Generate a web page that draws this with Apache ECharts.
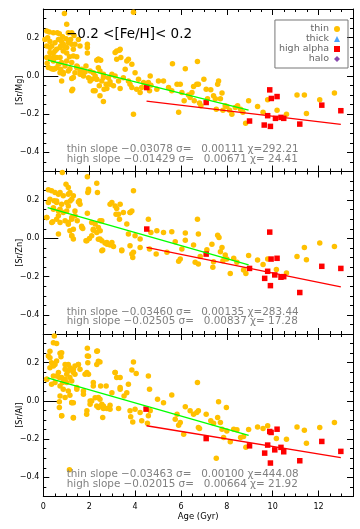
<!DOCTYPE html>
<html>
<head>
<meta charset="utf-8">
<script src="https://cdn.jsdelivr.net/npm/echarts@6/dist/echarts.min.js"></script>
<style>
html, body { margin: 0; padding: 0; background: #fff; }
#chart { width: 360px; height: 529px; }
</style>
</head>
<body>
<div id="chart"></div>
<script>
// y-axis names for the three panels
const panelNames = ['[Sr/Mg]', '[Sr/Zn]', '[Sr/Al]']
const xTicks = [0, 2, 4, 6, 8, 10, 12]
const yTicks = [-0.4, -0.2, 0, 0.2]

// [Sr/Mg]
const thinMg = [
  [0.92,0.326],[3.93,0.333],[1.02,0.27],[0.26,0.23],[0.44,0.226],[0.61,0.226],[0.70,0.22],[0.29,0.18],[0.19,0.20],
  [0.17,0.066],[0.36,0.038],[0.51,0.038],[0.44,0.12],[0.58,0.14],[0.80,0.18],[0.87,0.165],[0.95,0.15],[1.02,0.12],
  [1.14,0.10],[0.80,0.07],[0.73,0.017],[0.87,0.01],[1.24,-0.014],[1.16,0.038],[1.31,0.14],[1.46,0.10],[1.49,0.047],
  [1.67,0.009],[1.28,-0.07],[1.24,-0.078],[1.92,0.148],[1.92,0.12],[1.92,0.165],[1.46,0.043],[1.6,0.026],[1.82,0.02],
  [1.97,-0.009],[2.11,-0.017],[2.26,-0.078],[2.33,0.082],[2.40,0.087],[2.5,0.082],[2.4,0.043],[2.47,0.026],[2.62,0.009],
  [2.47,-0.104],[2.62,-0.134],[2.74,-0.043],[2.77,-0.066],[2.91,-0.031],[3.06,-0.052],[3.13,0.122],[3.2,0.087],[3.13,0.0],
  [3.32,0.134],[3.38,0.096],[3.49,-0.009],[3.35,-0.066],[3.64,0.078],[3.71,-0.026],[3.78,-0.043],[3.86,-0.061],[4.0,0.017],
  [3.93,-0.2],[4.07,-0.07],[4.22,-0.087],[4.29,-0.061],[4.58,-0.035],[4.63,-0.078],[4.66,0.0],[4.69,-0.049],[5.02,-0.026],
  [5.24,-0.026],[5.46,-0.061],[5.6,-0.078],[5.9,-0.19],[5.83,-0.043],[5.63,0.064],
  [0.15,0.235],[0.07,0.19],[0.15,0.157],[0.29,0.148],[0.51,0.174],[0.66,0.19],[0.76,0.157],[0.84,0.205],[0.99,0.195],
  [1.09,0.174],[1.19,0.19],[1.09,0.226],[1.24,0.226],[1.34,0.212],[1.38,0.165],[1.53,0.19],[1.6,0.157],[0.15,0.096],
  [0.29,0.096],[0.44,0.078],[0.58,0.096],[0.66,0.061],[0.95,0.052],[1.02,0.078],[1.24,0.07],[1.09,0.026],[0.76,0.035],
  [0.58,0.043],[1.38,0.017],[1.75,0.0],[1.86,0.052],[2.04,0.026],[2.18,0.017],[2.26,0.0],[2.33,-0.017],[2.55,-0.026],
  [2.44,-0.052],[2.65,-0.07],[2.84,-0.009],[2.99,0.009],[3.28,-0.026],[3.57,0.035],[3.86,0.061],[4.15,-0.017],[4.37,-0.035],
  [4.95,-0.07],
  [1.24,0.165],[0.37,0.156],[0.73,0.148],[1.02,0.148],[0.29,0.122],[0.51,0.13],[0.87,0.13],[0.44,0.096],[0.73,0.096],
  [1.31,0.104],[0.22,0.044],[0.44,0.035],[1.46,0.052],[1.68,0.035],[0.87,0.018],[1.31,-0.008],[1.6,0.009],[0.8,-0.026],
  [2.04,-0.026],[2.33,-0.017],[2.62,-0.008],[2.18,-0.078],[2.91,-0.043],[2.4,0.087],[3.2,0.13],[3.71,0.087],[3.35,0.139],
  [6.72,0.075],[6.19,0.038],[5.97,-0.043],[6.04,-0.087],[6.14,-0.13],[6.33,-0.1],[6.4,-0.113],[6.48,-0.087],[6.55,-0.056],
  [6.58,-0.13],[6.69,-0.043],[6.76,-0.043],[6.81,-0.142],[6.87,-0.156],[7.0,-0.017],[7.1,-0.07],[7.16,-0.12],[7.3,-0.073],
  [7.42,-0.104],[7.5,-0.12],[7.54,-0.174],[7.6,-0.043],[7.64,-0.026],[7.72,-0.12],[7.79,-0.09],[7.83,-0.18],[7.93,-0.156],
  [8.0,-0.16],[8.12,-0.18],[8.22,-0.2],[8.37,-0.165],[8.47,-0.156],[8.6,-0.174],[8.7,-0.19],[8.82,-0.248],[8.95,-0.13],
  [9.34,-0.16],[9.58,-0.19],[9.78,-0.125],[10.19,-0.18],[10.6,-0.2],[11.06,-0.1],[11.38,-0.1],[11.47,-0.196],[12.05,-0.125],
  [12.69,-0.09]
]
const highMg = [
  [4.51,-0.061],[7.1,-0.139],[8.99,-0.236],[9.63,-0.257],[9.9,-0.264],[9.78,-0.208],[9.87,-0.073],[9.94,-0.118],
  [10.19,-0.108],[10.12,-0.222],[10.36,-0.217],[10.48,-0.222],[11.18,-0.252],[12.14,-0.153],[12.97,-0.182]
]
const thinFitMg = [[0.2, 0.083], [8.95, -0.179]]
const highFitMg = [[4.5, -0.132], [12.97, -0.253]]

// [Sr/Zn]
const thinZn = [
  [0.83,0.345],[1.92,0.323],[1.97,0.257],[1.94,0.24],[2.33,0.289],[2.36,0.24],[3.93,0.249],[0.22,0.254],[0.36,0.249],
  [0.29,0.205],[0.47,0.197],[0.66,0.231],[0.73,0.24],[0.87,0.223],[0.99,0.283],[1.09,0.266],[1.16,0.24],[1.24,0.205],
  [1.31,0.223],[1.53,0.191],[1.57,0.197],[0.22,0.188],[0.58,0.188],[0.8,0.179],[1.02,0.188],[1.09,0.17],[0.44,0.153],
  [0.66,0.144],[0.87,0.136],[1.02,0.144],[0.15,0.11],[0.41,0.087],[0.58,0.1],[0.73,0.083],[0.95,0.092],[1.09,0.083],
  [0.66,0.023],[1.16,0.04],[1.24,0.014],[1.31,-0.003],[1.24,0.11],[1.38,0.118],[1.48,0.092],[1.67,0.063],[1.72,0.052],
  [1.92,0.132],[2.11,0.083],[2.18,0.043],[1.86,-0.012],[2.01,0.0],[2.11,0.014],[2.26,0.075],[2.33,0.031],[2.4,0.057],
  [2.47,0.092],[2.55,0.092],[2.47,-0.003],[2.55,-0.012],[2.59,-0.061],[2.69,-0.024],[2.78,-0.03],[2.91,-0.035],[3.06,-0.042],
  [2.99,0.188],[3.13,0.17],[3.2,0.157],[3.32,0.1],[3.17,0.127],[3.49,0.136],[3.64,0.075],[3.78,0.136],[3.86,0.144],
  [3.42,-0.061],[3.71,0.023],[3.78,-0.038],[3.86,-0.082],[3.93,-0.073],[3.9,-0.1],[4.0,0.014],[4.22,-0.047],[4.58,0.1],
  [4.63,-0.056],[4.69,0.031],[4.95,0.04],[5.24,0.031],[5.6,0.035],[5.39,-0.073],[5.75,-0.017],[5.9,-0.12],[4.22,-0.003],
  [4.92,-0.082],
  [0.51,0.24],[1.09,0.231],[0.58,0.196],[1.17,0.196],[1.6,0.179],[0.44,0.161],[0.73,0.153],[1.38,0.144],[0.15,0.109],
  [0.66,0.118],[1.24,0.1],[0.37,0.083],[1.09,0.074],[1.68,0.057],[1.31,0.048],[1.24,0.014],[1.9,-0.012],[2.4,-0.004],
  [2.77,-0.021],[2.99,-0.021],[2.55,-0.065],[3.42,-0.065],[2.18,0.048],[2.48,0.04],[2.91,0.179],[3.35,0.179],[3.28,0.127],
  [3.79,0.135],[1.97,0.248],
  [6.72,0.1],[6.19,0.028],[6.19,-0.009],[6.76,0.023],[6.04,-0.056],[6.55,-0.035],[6.62,-0.125],[6.76,-0.134],[6.84,-0.094],
  [7.13,-0.059],[7.35,-0.03],[7.39,-0.151],[7.42,-0.122],[7.6,0.017],[7.66,0.005],[7.72,-0.07],[7.79,-0.047],[7.83,-0.117],
  [7.93,-0.087],[8.0,-0.108],[8.15,-0.183],[8.3,-0.104],[8.44,-0.125],[8.73,-0.165],[8.83,-0.183],[8.95,-0.09],[9.34,-0.113],
  [9.58,-0.136],[9.78,-0.108],[10.16,-0.163],[10.6,-0.181],[11.06,-0.094],[11.38,-0.047],[11.47,-0.111],[12.05,-0.024],
  [12.69,-0.042],[5.97,-0.108]
]
const highZn = [
  [4.51,0.049],[7.1,-0.082],[8.99,-0.157],[9.87,0.033],[9.93,-0.108],[10.19,-0.104],[9.78,-0.172],[9.65,-0.209],
  [9.9,-0.247],[10.09,-0.191],[10.36,-0.203],[10.48,-0.2],[11.18,-0.283],[12.14,-0.146],[12.97,-0.157]
]
const thinFitZn = [[0.19, 0.161], [8.95, -0.139]]
const highFitZn = [[4.5, -0.047], [12.97, -0.254]]

// [Sr/Al]
const thinAl = [
  [0.48,0.34],[0.58,0.30],[1.92,0.275],
  [0.22,0.235],[0.36,0.2],[0.29,0.174],[0.44,0.183],[0.58,0.209],[0.73,0.249],[0.77,0.231],[0.95,0.191],[1.09,0.191],
  [1.16,0.174],[1.31,0.165],[1.38,0.183],[1.53,0.191],[1.6,0.165],[1.92,0.235],[1.94,0.2],[2.36,0.261],[2.33,0.191],
  [2.47,0.203],[1.82,0.139],[1.97,0.139],[0.44,0.13],[0.58,0.13],[0.7,0.122],[0.8,0.122],[0.95,0.113],[0.66,0.148],
  [0.84,0.096],[1.02,0.139],[1.16,0.122],[1.24,0.104],[1.38,0.139],[0.15,0.113],[0.36,0.087],[0.73,0.026],[0.7,-0.005],
  [0.7,-0.035],[0.8,-0.078],[1.16,0.03],[1.24,-0.009],[1.31,-0.009],[1.31,-0.09],[0.87,0.061],[1.09,0.052],[1.46,0.061],
  [1.75,0.035],[1.89,-0.07],[2.04,-0.017],[2.11,0.0],[2.18,0.096],[2.26,0.017],[2.33,-0.026],[2.4,-0.035],[2.47,0.009],
  [2.55,-0.017],[2.62,-0.04],[2.5,0.078],[2.74,0.078],[2.59,-0.087],[2.77,-0.04],[2.91,-0.023],[2.99,0.043],[3.13,0.148],
  [3.2,0.122],[3.35,0.07],[3.28,-0.04],[3.52,0.026],[3.64,0.043],[3.78,-0.052],[3.86,0.162],[3.93,0.203],[4.05,0.144],
  [3.81,-0.083],[3.9,-0.11],[4.0,-0.043],[4.22,-0.061],[4.29,-0.104],[4.58,0.13],[4.63,0.061],[4.58,-0.078],[4.54,-0.117],
  [4.66,-0.052],[4.98,0.009],[5.24,-0.009],[5.6,0.031],[5.75,-0.096],[5.9,-0.127],[5.83,-0.07],[1.14,-0.36],
  [0.44,0.304],[0.29,0.26],[0.8,0.252],[0.29,0.226],[0.51,0.191],[0.95,0.165],[1.09,0.156],[1.31,0.148],[1.53,0.191],
  [1.97,0.234],[2.33,0.26],[2.4,0.208],[1.9,0.148],[0.15,0.113],[0.51,0.096],[0.73,0.078],[1.02,0.096],[1.46,0.07],
  [1.75,0.052],[2.18,0.078],[0.95,0.018],[1.24,-0.008],[2.04,0.0],[2.4,0.018],[2.62,-0.026],[2.91,-0.043],[3.13,0.148],
  [3.35,0.122],[3.71,0.087],[3.35,0.061],[0.8,-0.078],[1.31,-0.087],[1.9,-0.052],
  [6.72,0.096],[6.19,-0.03],[6.12,-0.174],[6.4,-0.052],[6.55,-0.07],[6.69,-0.061],[6.76,-0.052],[6.76,-0.139],[6.81,-0.144],
  [7.1,-0.07],[7.3,-0.104],[7.42,-0.117],[7.54,-0.3],[7.6,-0.087],[7.64,-0.005],[7.72,-0.113],[7.79,-0.148],[7.86,-0.191],
  [7.98,-0.035],[8.0,-0.157],[8.15,-0.214],[8.3,-0.148],[8.44,-0.151],[8.6,-0.191],[8.73,-0.186],[8.83,-0.243],[8.95,-0.15],
  [9.34,-0.137],[9.58,-0.144],[9.78,-0.13],[10.16,-0.197],[10.6,-0.2],[11.06,-0.136],[11.38,-0.153],[11.47,-0.221],
  [12.05,-0.139],[12.69,-0.113],[5.97,-0.113]
]
const highAl = [
  [4.48,-0.043],[7.1,-0.197],[8.99,-0.235],[9.87,-0.16],[9.93,-0.165],[10.19,-0.148],[9.78,-0.231],[9.65,-0.273],
  [9.9,-0.325],[10.09,-0.256],[10.36,-0.243],[10.48,-0.266],[11.18,-0.313],[12.14,-0.212],[12.97,-0.264]
]
const thinFitAl = [[0.19, 0.12], [8.95, -0.18]]
const highFitAl = [[4.5, -0.13], [12.97, -0.297]]

const thinStats = [
  'thin slope \u22120.03078 \u03c3=   0.00111 \u03c7=292.21',
  'thin slope \u22120.03460 \u03c3=   0.00135 \u03c7=283.44',
  'thin slope \u22120.03463 \u03c3=   0.00100 \u03c7=444.08'
]
const highStats = [
  'high slope \u22120.01429 \u03c3=   0.00671 \u03c7= 24.41',
  'high slope \u22120.02505 \u03c3=   0.00837 \u03c7= 17.28',
  'high slope \u22120.02015 \u03c3=   0.00664 \u03c7= 21.92'
]

const thinData = [thinMg, thinZn, thinAl]
const highData = [highMg, highZn, highAl]
const thinFits = [thinFitMg, thinFitZn, thinFitAl]
const highFits = [highFitMg, highFitZn, highFitAl]

const FONT = 'DejaVu Sans'
const tops = [9, 171.5, 334]
const H = 162.5
const fmtY = v => (v < 0 ? '\u2212' : '') + Math.abs(v).toFixed(1)

const chart = echarts.init(document.getElementById('chart'), null, { renderer: 'canvas' })

const grid = [], xAxis = [], yAxis = [], series = [], graphic = []
const line = { show: true, onZero: false, lineStyle: { color: '#000', width: 1 } }
const noLine = { show: false, onZero: false }
const tick = (len, values) => ({ inside: true, length: len, customValues: values, lineStyle: { color: '#000' } })

tops.forEach((top, g) => {
  grid.push({ left: 43.3, right: 7, top, height: H, containLabel: false, outerBoundsMode: 'none' })
  const bottomPanel = g === 2
  const xBase = { gridIndex: g, type: 'value', min: 0, max: 13.5, splitLine: { show: false } }
  const yBase = { gridIndex: g, type: 'value', min: -0.5, max: 0.35, splitLine: { show: false } }
  // x: bottom main, bottom minor, top main, top minor
  xAxis.push({
    ...xBase, position: 'bottom', axisLine: line, axisTick: tick(6, xTicks),
    axisLabel: { show: bottomPanel, customValues: xTicks, color: '#000', fontFamily: FONT, fontSize: 8, margin: 6 },
    name: bottomPanel ? 'Age (Gyr)' : '', nameLocation: 'middle', nameGap: 16, nameMoveOverlap: false,
    nameTextStyle: { color: '#000', fontFamily: FONT, fontSize: 8.5 }
  })
  xAxis.push({ ...xBase, interval: 0.5, position: 'bottom', axisLine: noLine, axisLabel: { show: false },
    axisTick: { inside: true, length: 3, lineStyle: { color: '#000' } } })
  xAxis.push({ ...xBase, position: 'top', axisLine: line, axisLabel: { show: false }, axisTick: tick(6, xTicks) })
  xAxis.push({ ...xBase, interval: 0.5, position: 'top', axisLine: noLine, axisLabel: { show: false },
    axisTick: { inside: true, length: 3, lineStyle: { color: '#000' } } })
  // y: left main, left minor, left zero stub, right main, right minor
  yAxis.push({
    ...yBase, position: 'left', axisLine: line, axisTick: tick(6, yTicks),
    axisLabel: { customValues: yTicks, formatter: fmtY, color: '#000', fontFamily: FONT, fontSize: 8, margin: 4 },
    name: panelNames[g], nameLocation: 'middle', nameGap: 19, nameMoveOverlap: false,
    nameTextStyle: { color: '#000', fontFamily: FONT, fontSize: 8 }
  })
  yAxis.push({ ...yBase, interval: 0.05, position: 'left', axisLine: noLine, axisLabel: { show: false },
    axisTick: { inside: true, length: 3, lineStyle: { color: '#000' } } })
  yAxis.push({ ...yBase, position: 'left', axisLine: noLine, axisLabel: { show: false }, axisTick: tick(15, [0]) })
  yAxis.push({ ...yBase, position: 'right', axisLine: line, axisLabel: { show: false }, axisTick: tick(6, yTicks) })
  yAxis.push({ ...yBase, interval: 0.05, position: 'right', axisLine: noLine, axisLabel: { show: false },
    axisTick: { inside: true, length: 3, lineStyle: { color: '#000' } } })

  const ax = { xAxisIndex: g * 4, yAxisIndex: g * 5 }
  series.push({
    name: 'thin', type: 'scatter', ...ax, data: thinData[g], symbol: 'circle', symbolSize: 5.5,
    itemStyle: { color: '#FFC000', opacity: 1 }, z: 2, silent: true
  })
  series.push({
    name: 'high alpha', type: 'scatter', ...ax, data: highData[g], symbol: 'rect', symbolSize: 5.5,
    itemStyle: { color: '#FF0000', opacity: 1 }, z: 3, silent: true
  })
  series.push({
    type: 'line', ...ax, data: thinFits[g], symbol: 'none', silent: true, z: 4,
    lineStyle: { color: '#00FF00', width: 1.3 }
  })
  series.push({
    type: 'line', ...ax, data: highFits[g], symbol: 'none', silent: true, z: 4,
    lineStyle: { color: '#FF0000', width: 1.3 }
  })

  const bottom = top + H
  graphic.push({ type: 'text', left: 66.7, top: bottom - 27, silent: true, z: 100,
    style: { text: thinStats[g], fill: '#808080', font: '10.4px "DejaVu Sans"' } })
  graphic.push({ type: 'text', left: 66.7, top: bottom - 17.5, silent: true, z: 100,
    style: { text: highStats[g], fill: '#808080', font: '10.4px "DejaVu Sans"' } })
})

// legend-only series
series.push({ name: 'thick', type: 'scatter', xAxisIndex: 0, yAxisIndex: 0, data: [], symbol: 'triangle', itemStyle: { color: '#1E8CFF' } })
series.push({ name: 'halo', type: 'scatter', xAxisIndex: 0, yAxisIndex: 0, data: [], symbol: 'diamond', itemStyle: { color: '#6A1B9A' } })

graphic.push({ type: 'text', left: 66, top: 27, silent: true, z: 100,
  style: { text: '\u22120.2 <[Fe/H]< 0.2', fill: '#000', font: '13.5px "DejaVu Sans"' } })

chart.setOption({
  animation: false,
  backgroundColor: '#fff',
  grid, xAxis, yAxis, series, graphic,
  legend: {
    data: [
      { name: 'thin', icon: 'circle' },
      { name: 'thick', icon: 'triangle' },
      { name: 'high alpha', icon: 'rect' },
      { name: 'halo', icon: 'diamond' }
    ],
    orient: 'vertical', align: 'right', right: 12, top: 20,
    itemWidth: 6, itemHeight: 6, itemGap: 0,
    padding: [4, 8, 4, 4],
    borderColor: '#777', borderWidth: 1, borderRadius: 0,
    selectedMode: false,
    textStyle: { color: '#666', fontFamily: FONT, fontSize: 9.5, lineHeight: 10 }
  }
})
</script>
</body>
</html>
